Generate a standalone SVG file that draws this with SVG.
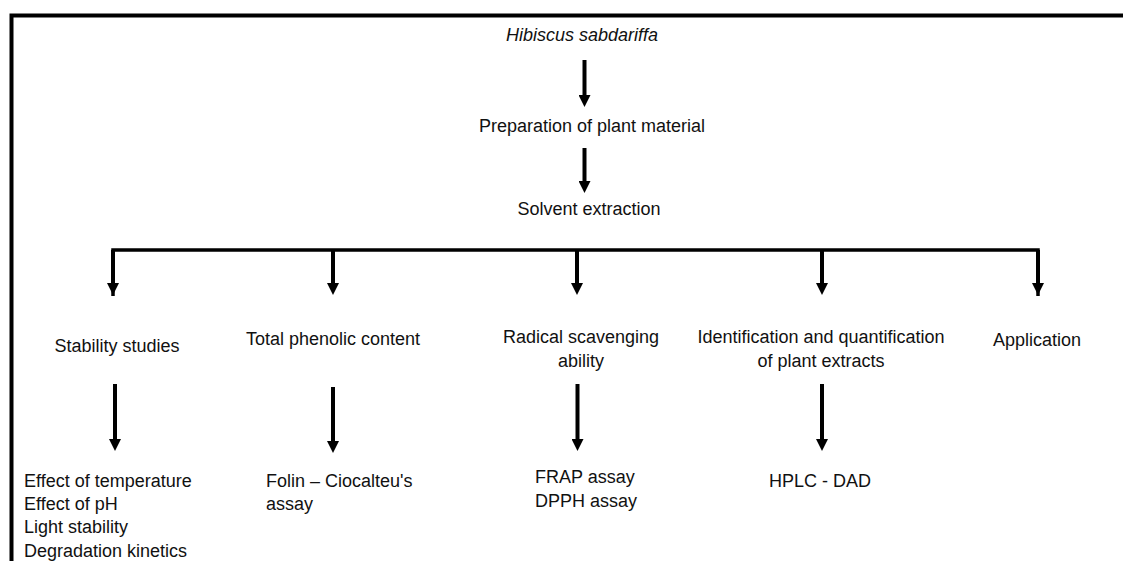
<svg xmlns="http://www.w3.org/2000/svg" width="1123" height="561" viewBox="0 0 1123 561">
<style>
text{font-family:"Liberation Sans",Arial,sans-serif;font-size:18px;fill:#111}
.c{text-anchor:middle}
.a{fill:none;stroke:#000;stroke-width:4;marker-end:url(#ah)}
.b{fill:none;stroke:#000;stroke-width:3.5}
</style>
<defs>
<marker id="ah" markerUnits="userSpaceOnUse" markerWidth="12" markerHeight="12" refX="2" refY="6" orient="auto">
<path d="M0,0 L12,6 L0,12 z" fill="#000"/>
</marker>
</defs>
<rect width="1123" height="561" fill="#fff"/>
<path d="M11.5,561 V15.5 H1123" fill="none" stroke="#000" stroke-width="4"/>
<g id="n-hibiscus"><text class="c" x="582" y="41" font-style="italic">Hibiscus sabdariffa</text></g>
<g id="n-prep"><text class="c" x="592" y="132">Preparation of plant material</text></g>
<g id="n-solvent"><text class="c" x="589" y="215">Solvent extraction</text></g>
<g id="n-stability"><text class="c" x="117" y="352">Stability studies</text></g>
<g id="n-phenolic"><text class="c" x="333" y="345">Total phenolic content</text></g>
<g id="n-radical"><text class="c" x="581" y="343">Radical scavenging</text><text class="c" x="581" y="367">ability</text></g>
<g id="n-ident"><text class="c" x="821" y="343">Identification and quantification</text><text class="c" x="821" y="367">of plant extracts</text></g>
<g id="n-app"><text class="c" x="1037" y="346">Application</text></g>
<g id="n-stab-items"><text x="24" y="487">Effect of temperature</text><text x="24" y="510">Effect of pH</text><text x="24" y="533">Light stability</text><text x="24" y="557">Degradation kinetics</text></g>
<g id="n-folin"><text x="266" y="487">Folin – Ciocalteu's</text><text x="266" y="510">assay</text></g>
<g id="n-frap"><text x="535" y="483">FRAP assay</text><text x="535" y="507">DPPH assay</text></g>
<g id="n-hplc"><text x="769" y="487">HPLC - DAD</text></g>
<g id="connectors">
<path class="a" d="M584.5,60 V97"/>
<path class="a" d="M584.5,148 V183"/>
<path class="b" d="M113,296 V250 H1038 V296"/>
<path class="a" d="M113,250 V285"/>
<path class="a" d="M333,250 V285"/>
<path class="a" d="M577,250 V285"/>
<path class="a" d="M822,250 V285"/>
<path class="a" d="M1038,250 V285"/>
<path class="a" d="M115,384 V441"/>
<path class="a" d="M333,387 V443"/>
<path class="a" d="M577.5,384 V441"/>
<path class="a" d="M822,384 V441"/>
</g>
</svg>
